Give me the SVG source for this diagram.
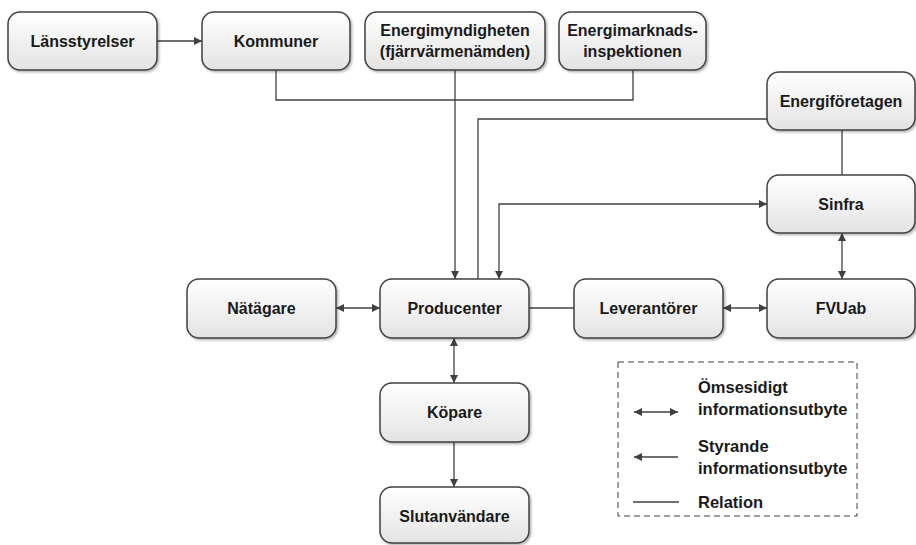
<svg xmlns="http://www.w3.org/2000/svg" width="916" height="545" viewBox="0 0 916 545">
<style>
.box{fill:url(#g);stroke:#404040;stroke-width:1.5;filter:url(#sh)}
.t{font-family:"Liberation Sans",Arial,sans-serif;font-weight:bold;font-size:16px;fill:#1a1a1a;text-anchor:middle}
.lt{font-family:"Liberation Sans",Arial,sans-serif;font-weight:bold;font-size:16.5px;fill:#1a1a1a}
.c{fill:none;stroke:#404040;stroke-width:1.3}
.a{marker-end:url(#ah)}
.d{marker-start:url(#ah);marker-end:url(#ah)}
</style>
<defs>
<linearGradient id="g" x1="0" y1="0" x2="0" y2="1">
<stop offset="0" stop-color="#ffffff"/>
<stop offset="1" stop-color="#e3e3e3"/>
</linearGradient>
<filter id="sh" x="-10%" y="-10%" width="125%" height="130%">
<feDropShadow dx="1.5" dy="1.5" stdDeviation="1.2" flood-color="#000" flood-opacity="0.3"/>
</filter>
<marker id="ah" viewBox="0 0 10 10" refX="10" refY="5" markerWidth="10" markerHeight="8" markerUnits="userSpaceOnUse" orient="auto-start-reverse">
<path d="M0,0 L10,5 L0,10 z" fill="#404040"/>
</marker>
</defs>
<rect width="916" height="545" fill="#ffffff"/>
<g id="connectors">
<path class="c a" d="M157,41 H202"/>
<path class="c" d="M276,70 V100 H633 V70"/>
<path class="c a" d="M455,70 V279"/>
<path class="c" d="M767,119 H478 V279"/>
<path class="c d" d="M499,279 V204 H767"/>
<path class="c" d="M842,130 V175"/>
<path class="c d" d="M842,233 V279"/>
<path class="c d" d="M336,308 H380"/>
<path class="c" d="M529,308 H574"/>
<path class="c d" d="M723,308 H767"/>
<path class="c d" d="M454,338 V383"/>
<path class="c a" d="M454,442 V487"/>
</g>
<g id="lansstyrelser"><rect class="box" x="8" y="12" width="149" height="58" rx="12"/><text class="t" x="82.5" y="47">Länsstyrelser</text></g>
<g id="kommuner"><rect class="box" x="202" y="12" width="148" height="58" rx="12"/><text class="t" x="276" y="47">Kommuner</text></g>
<g id="energimyndigheten"><rect class="box" x="365" y="12" width="180" height="58" rx="12"/><text class="t" x="455" y="36">Energimyndigheten</text><text class="t" x="455" y="57">(fjärrvärmenämden)</text></g>
<g id="energimarknadsinspektionen"><rect class="box" x="559" y="12" width="147" height="58" rx="12"/><text class="t" x="632.5" y="36">Energimarknads-</text><text class="t" x="632.5" y="57">inspektionen</text></g>
<g id="energiforetagen"><rect class="box" x="767" y="72" width="148" height="58" rx="12"/><text class="t" x="841" y="107">Energiföretagen</text></g>
<g id="sinfra"><rect class="box" x="767" y="175" width="148" height="58" rx="12"/><text class="t" x="841" y="210">Sinfra</text></g>
<g id="natagare"><rect class="box" x="187" y="279" width="149" height="59" rx="12"/><text class="t" x="261.5" y="314">Nätägare</text></g>
<g id="producenter"><rect class="box" x="380" y="279" width="149" height="59" rx="12"/><text class="t" x="454.5" y="314">Producenter</text></g>
<g id="leverantorer"><rect class="box" x="574" y="279" width="149" height="59" rx="12"/><text class="t" x="648.5" y="314">Leverantörer</text></g>
<g id="fvuab"><rect class="box" x="767" y="279" width="148" height="59" rx="12"/><text class="t" x="841" y="314">FVUab</text></g>
<g id="kopare"><rect class="box" x="380" y="383" width="149" height="59" rx="12"/><text class="t" x="454.5" y="418">Köpare</text></g>
<g id="slutanvandare"><rect class="box" x="380" y="487" width="149" height="56" rx="12"/><text class="t" x="454.5" y="522">Slutanvändare</text></g>
<g id="legend">
<rect x="618" y="362" width="239" height="154" fill="none" stroke="#404040" stroke-width="1" stroke-dasharray="6,4"/>
<path class="c d" d="M634,412 H678"/>
<path class="c" d="M634,457 H678" marker-start="url(#ah)"/>
<path class="c" d="M633,502 H679"/>
<text class="lt" x="698" y="393">Ömsesidigt</text>
<text class="lt" x="698" y="415">informationsutbyte</text>
<text class="lt" x="698" y="452">Styrande</text>
<text class="lt" x="698" y="474">informationsutbyte</text>
<text class="lt" x="698" y="508">Relation</text>
</g>
</svg>
